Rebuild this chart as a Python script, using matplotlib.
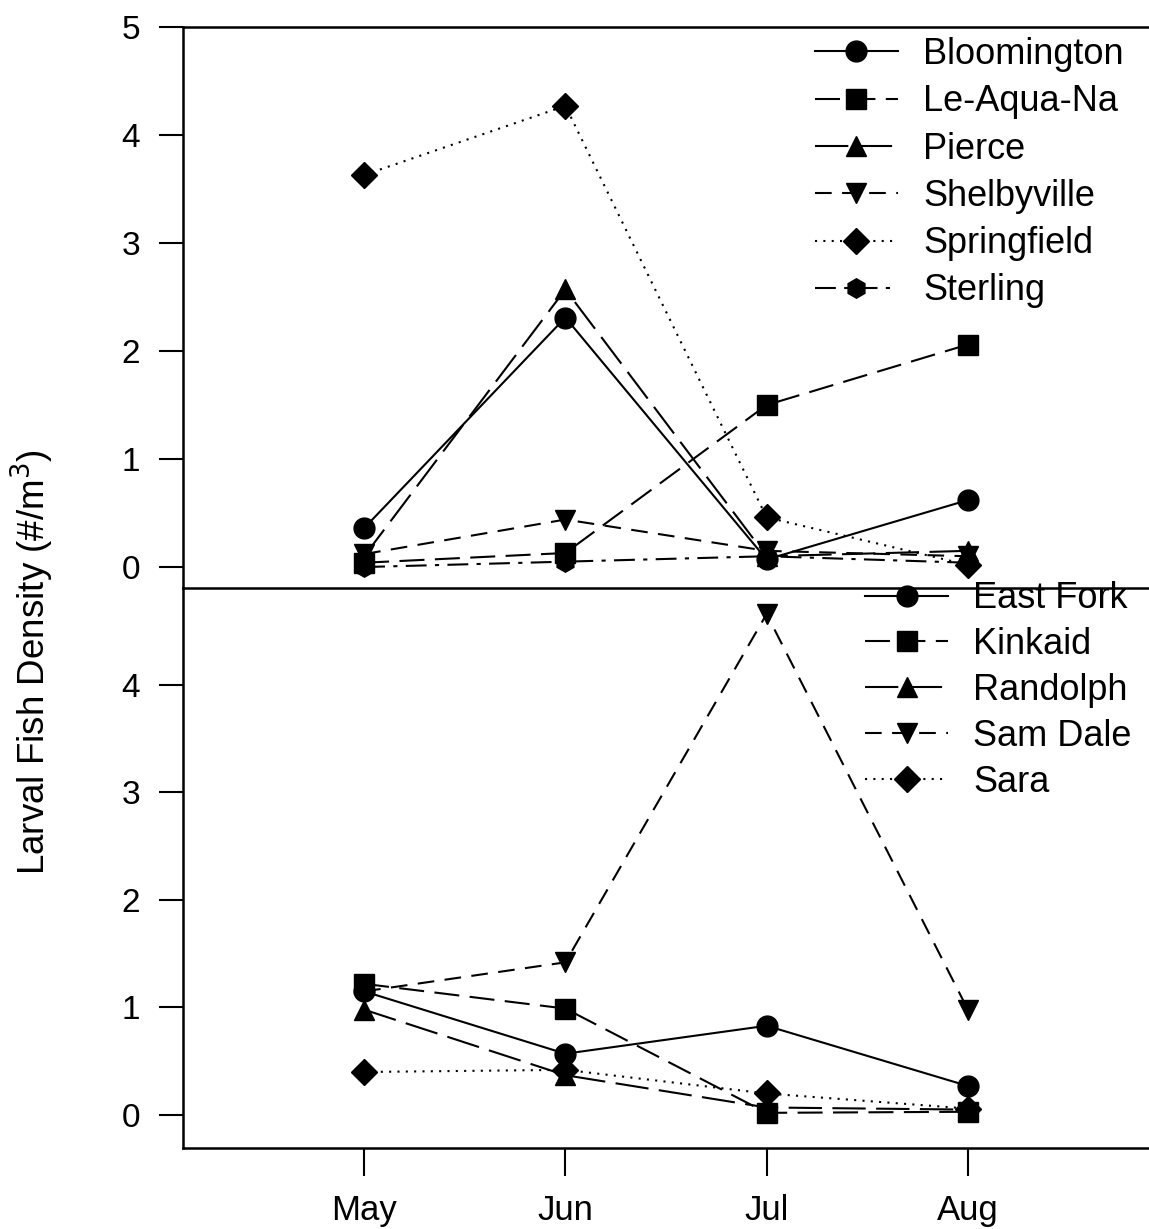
import matplotlib
matplotlib.use("Agg")
import matplotlib.pyplot as plt

plt.rcParams['font.family'] = ['Liberation Sans', 'DejaVu Sans']

months = ["May", "Jun", "Jul", "Aug"]
xpos = [5, 6, 7, 8]

# Top panel
top_names = ["Bloomington", "Le-Aqua-Na", "Pierce", "Shelbyville", "Springfield", "Sterling"]
bloomington = [0.36, 2.31, 0.07, 0.62]
le_aqua_na = [0.04, 0.13, 1.50, 2.06]
pierce = [0.10, 2.57, 0.10, 0.15]
shelbyville = [0.12, 0.44, 0.15, 0.10]
springfield = [3.63, 4.27, 0.46, 0.02]
sterling = [0.00, 0.05, 0.10, 0.04]

# Bottom panel
bot_names = ["East Fork", "Kinkaid", "Randolph", "Sam Dale", "Sara"]
east_fork = [1.15, 0.57, 0.83, 0.27]
kinkaid = [1.22, 0.99, 0.02, 0.03]
randolph = [0.98, 0.37, 0.07, 0.05]
sam_dale = [1.15, 1.42, 4.66, 0.98]
sara = [0.40, 0.42, 0.20, 0.06]

top_series = [bloomington, le_aqua_na, pierce, shelbyville, springfield, sterling]
bot_series = [east_fork, kinkaid, randolph, sam_dale, sara]

top_markers = ['o', 's', '^', 'v', 'D', 'h']
top_styles = ['-', (0, (12, 5)), (0, (16, 5)), (0, (8, 5)), (0, (1, 3)), (0, (10, 4, 2, 4))]
top_ms = [15, 14, 15, 15, 13, 14]
bot_markers = ['o', 's', '^', 'v', 'D']
bot_styles = ['-', (0, (12, 5)), (0, (16, 5)), (0, (8, 5)), (0, (1, 3))]
bot_ms = [15, 14, 15, 15, 13]

W, H = 1149, 1229
fig = plt.figure(figsize=(W / 100, H / 100), dpi=100)
left = 183 / W
right = 1.0
y_top = 1 - 27 / H
y_mid = 1 - 588 / H
y_bot = 1 - 1148 / H

ax2 = fig.add_axes([left, y_bot, right - left, y_mid - y_bot])
ax1 = fig.add_axes([left, y_mid, right - left, y_top - y_mid])
ax1.patch.set_visible(False)
ax2.patch.set_visible(False)

for ax in (ax1, ax2):
    ax.set_xlim(4.1, 8.9)
    ax.spines['right'].set_visible(False)
    for s in ('left', 'top', 'bottom'):
        ax.spines[s].set_linewidth(1.8)
    ax.tick_params(axis='y', direction='out', length=17, width=1.5, labelsize=24, pad=14)

for vals, m, ls, ms, name in zip(top_series, top_markers, top_styles, top_ms, top_names):
    ax1.plot(xpos, vals, color='black', marker=m, linestyle=ls, markersize=ms,
             linewidth=1.5, label=name)
for vals, m, ls, ms, name in zip(bot_series, bot_markers, bot_styles, bot_ms, bot_names):
    ax2.plot(xpos, vals, color='black', marker=m, linestyle=ls, markersize=ms,
             linewidth=1.5, label=name)

ax1.set_ylim(-0.194, 5)
ax1.set_yticks([0, 1, 2, 3, 4, 5])
ax1.set_xticks([])

ax2.set_ylim(-0.307, 4.902)
ax2.set_yticks([0, 1, 2, 3, 4])
ax2.spines['top'].set_visible(False)
ax2.set_xticks(xpos)
ax2.set_xticklabels(months)
ax2.tick_params(axis='x', direction='out', length=20, width=1.5, labelsize=25, pad=13)

leg_kw = dict(frameon=False, fontsize=26, handlelength=2.3, handletextpad=0.7,
              borderaxespad=0, borderpad=0)
ax1.legend(loc='upper left', bbox_to_anchor=(0.654, 0.982), labelspacing=0.34, **leg_kw)
ax2.legend(loc='upper left', bbox_to_anchor=(0.706, 1.012), labelspacing=0.30, **leg_kw)

fig.text(32 / W, 1 - 662 / H, "Larval Fish Density (#/m$^3$)", rotation=90,
         ha='center', va='center', fontsize=26.5)

fig.savefig("out.png", dpi=100)
